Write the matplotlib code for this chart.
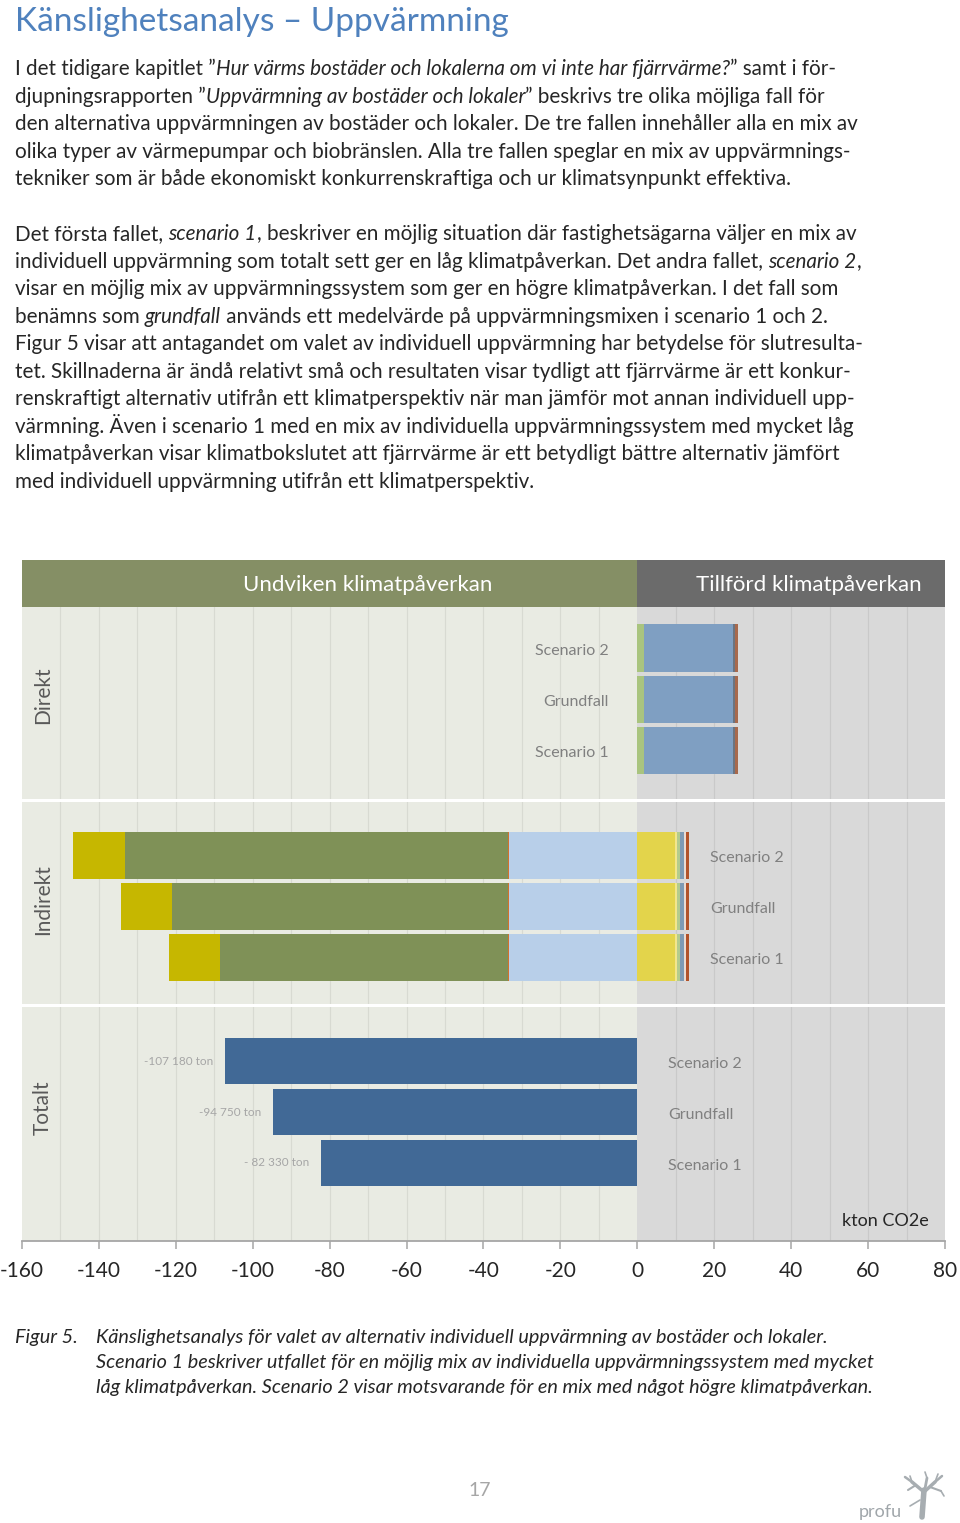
import matplotlib
matplotlib.use("Agg")
import matplotlib.pyplot as plt
import numpy as np
from matplotlib.lines import Line2D

plt.rcParams['font.family'] = ['Lato', 'DejaVu Sans']

# ---------------- data ----------------
scenarios = ['Scenario 2', 'Grundfall', 'Scenario 1']
xticks = [-160, -140, -120, -100, -80, -60, -40, -20, 0, 20, 40, 60, 80]

# Direkt (positive, stacked from 0)
dir_a = [1.7, 1.7, 1.7]
dir_b = [23.1, 23.1, 23.1]
dir_c = [0.6, 0.6, 0.6]
dir_d = [0.7, 0.7, 0.7]
dir_colors = ['#a9c47f', '#7f9fc2', '#6b7480', '#a8694c']

# Indirekt negative (stacked from 0 to the left)
ind_neg_a = [33.3, 33.3, 33.3]
ind_neg_b = [0.4, 0.4, 0.4]
ind_neg_c = [99.6, 87.2, 74.7]
ind_neg_d = [13.4, 13.3, 13.4]
ind_neg_colors = ['#b8cfe9', '#d2722e', '#7f9157', '#c6b700']

# Indirekt positive
ind_pos_a = [9.8, 9.8, 9.8]
ind_pos_b = [0.45, 0.45, 0.45]
ind_pos_c = [0.85, 0.85, 0.85]
ind_pos_d = [1.05, 1.05, 1.05]
ind_pos_e = [0.4, 0.4, 0.4]
ind_pos_f = [0.85, 0.85, 0.85]
ind_pos_colors = ['#e3d44b', '#f3e68c', '#b3cc8c', '#7e9ab4', '#eadbd2', '#b2532a']

# Totalt
totals = [-107.18, -94.75, -82.33]
total_labels = ['-107 180 ton', '-94 750 ton', '- 82 330 ton']

title = 'Känslighetsanalys – Uppvärmning'
para1 = [
    [('I det tidigare kapitlet ”', False), ('Hur värms bostäder och lokalerna om vi inte har fjärrvärme?', True), ('” samt i för-', False)],
    [('djupningsrapporten ”', False), ('Uppvärmning av bostäder och lokaler', True), ('” beskrivs tre olika möjliga fall för', False)],
    [('den alternativa uppvärmningen av bostäder och lokaler. De tre fallen innehåller alla en mix av', False)],
    [('olika typer av värmepumpar och biobränslen. Alla tre fallen speglar en mix av uppvärmnings-', False)],
    [('tekniker som är både ekonomiskt konkurrenskraftiga och ur klimatsynpunkt effektiva.', False)],
]
para2 = [
    [('Det första fallet, ', False), ('scenario 1', True), (', beskriver en möjlig situation där fastighetsägarna väljer en mix av', False)],
    [('individuell uppvärmning som totalt sett ger en låg klimatpåverkan. Det andra fallet, ', False), ('scenario 2', True), (',', False)],
    [('visar en möjlig mix av uppvärmningssystem som ger en högre klimatpåverkan. I det fall som', False)],
    [('benämns som ', False), ('grundfall', True), (' används ett medelvärde på uppvärmningsmixen i scenario 1 och 2.', False)],
    [('Figur 5 visar att antagandet om valet av individuell uppvärmning har betydelse för slutresulta-', False)],
    [('tet. Skillnaderna är ändå relativt små och resultaten visar tydligt att fjärrvärme är ett konkur-', False)],
    [('renskraftigt alternativ utifrån ett klimatperspektiv när man jämför mot annan individuell upp-', False)],
    [('värmning. Även i scenario 1 med en mix av individuella uppvärmningssystem med mycket låg', False)],
    [('klimatpåverkan visar klimatbokslutet att fjärrvärme är ett betydligt bättre alternativ jämfört', False)],
    [('med individuell uppvärmning utifrån ett klimatperspektiv.', False)],
]
caption_head = 'Figur 5.'
caption = [
    'Känslighetsanalys för valet av alternativ individuell uppvärmning av bostäder och lokaler.',
    'Scenario 1 beskriver utfallet för en möjlig mix av individuella uppvärmningssystem med mycket',
    'låg klimatpåverkan. Scenario 2 visar motsvarande för en mix med något högre klimatpåverkan.',
]

# ---------------- figure ----------------
W, H = 960, 1523
fig = plt.figure(figsize=(W / 100, H / 100), dpi=100)
fig.patch.set_facecolor('white')
renderer = fig.canvas.get_renderer()


def fx(px):
    return px / W


def fy(py):
    return 1 - py / H


def seg_width(s, size, italic):
    t = fig.text(0, 0, s + 'x', size=size, style='italic' if italic else 'normal')
    w1 = t.get_window_extent(renderer).width
    t.set_text('x')
    w2 = t.get_window_extent(renderer).width
    t.remove()
    return w1 - w2


def draw_line(x, yc, segs, size, color):
    base = yc + 0.36 * size * 100 / 72
    for s, it in segs:
        fig.text(fx(x), fy(base), s, size=size, style='italic' if it else 'normal',
                 color=color, ha='left', va='baseline')
        x += seg_width(s, size, it)


# title
tsize = 24 * 495 / seg_width(title, 24, False)
draw_line(15, 19, [(title, False)], tsize, '#4f81bd')

# body text: fit size so a reference line matches width
ref = para1[2][0][0]
bsize = 14 * 845 / seg_width(ref, 14, False)
for i, segs in enumerate(para1):
    draw_line(15, 68 + i * 27.5, segs, bsize, '#262626')
for i, segs in enumerate(para2):
    draw_line(15, 233 + i * 27.5, segs, bsize, '#262626')

# caption
csize = 13 * 775 / seg_width(caption[2], 13, True)
draw_line(15, 1336, [(caption_head, True)], csize, '#262626')
for i, line in enumerate(caption):
    draw_line(96, 1336 + i * 25, [(line, True)], csize, '#262626')

# page number & logo
fig.text(fx(480), fy(1491), '17', size=14, color='#a6a6a6', ha='center', va='center')
fig.text(fx(880), fy(1512), 'profu', size=13, color='#a0a6aa', ha='center', va='center')
tree = [((922, 1517), (924, 1490), 4), ((924, 1492), (912, 1482), 2.5), ((924, 1492), (935, 1482), 2.5),
        ((935, 1482), (942, 1476), 1.8), ((912, 1482), (905, 1477), 1.8), ((916, 1485), (908, 1490), 1.5),
        ((930, 1487), (941, 1491), 1.5), ((924, 1494), (927, 1478), 2), ((927, 1478), (925, 1472), 1.2),
        ((935, 1482), (938, 1474), 1.2), ((912, 1482), (910, 1476), 1.2), ((941, 1491), (944, 1496), 1.2),
        ((920, 1500), (910, 1506), 1.2)]
for (x0, y0), (x1, y1), lw in tree:
    fig.add_artist(Line2D([fx(x0), fx(x1)], [fy(y0), fy(y1)], color='#a7adb1', lw=lw,
                          transform=fig.transFigure, solid_capstyle='round'))

# ---------------- chart ----------------
LEFT, RIGHT = 22, 945
XMIN, XMAX = -160, 80
left_bg, right_bg = '#e9ebe3', '#d9d9d9'
bar_h = 0.92
ypos = np.arange(len(scenarios))


def panel(top, bottom, ylo, yhi):
    ax = fig.add_axes([fx(LEFT), fy(bottom), (RIGHT - LEFT) / W, (bottom - top) / H])
    ax.set_xlim(XMIN, XMAX)
    ax.set_ylim(yhi, ylo)
    ax.axvspan(XMIN, 0, color=left_bg, zorder=0, lw=0)
    ax.axvspan(0, XMAX, color=right_bg, zorder=0, lw=0)
    for v in np.arange(XMIN + 10, XMAX, 10):
        if v != 0:
            ax.axvline(v, color=(0, 0, 0, 0.07), lw=0.9, zorder=0.5)
    for s in ax.spines.values():
        s.set_visible(False)
    ax.set_yticks([])
    ax.set_xticks([])
    return ax


def stack(ax, series, colors, sign):
    acc = np.zeros(len(scenarios))
    for vals, c in zip(series, colors):
        v = np.array(vals) * sign
        ax.barh(ypos, v, left=acc, height=bar_h, color=c, lw=0, zorder=2)
        acc = acc + v


# header
axh = fig.add_axes([fx(LEFT), fy(607), (RIGHT - LEFT) / W, 47 / H])
axh.set_xlim(XMIN, XMAX)
axh.set_ylim(0, 1)
axh.axvspan(XMIN, 0, color='#858f65', lw=0)
axh.axvspan(0, XMAX, color='#6b6b6b', lw=0)
axh.text(-70, 0.47, 'Undviken klimatpåverkan', color='white', size=16, ha='center', va='center')
axh.text(44.5, 0.47, 'Tillförd klimatpåverkan', color='white', size=16, ha='center', va='center')
axh.axis('off')

# Direkt
ax1 = panel(607, 799, -0.80, 2.94)
stack(ax1, [dir_a, dir_b, dir_c, dir_d], dir_colors, 1)
for i, s in enumerate(scenarios):
    ax1.text(-7.4, i + 0.05, s, ha='right', va='center', size=11.5, color='#808080')

# Indirekt
ax2 = panel(802, 1004, -1.04, 2.92)
stack(ax2, [ind_neg_a, ind_neg_b, ind_neg_c, ind_neg_d], ind_neg_colors, -1)
stack(ax2, [ind_pos_a, ind_pos_b, ind_pos_c, ind_pos_d, ind_pos_e, ind_pos_f], ind_pos_colors, 1)
for i, s in enumerate(scenarios):
    ax2.text(19, i + 0.05, s, ha='left', va='center', size=11.5, color='#808080')

# Totalt
ax3 = panel(1007, 1241, -1.06, 3.53)
ax3.barh(ypos, totals, height=bar_h, color='#416996', lw=0, zorder=2)
for i, s in enumerate(scenarios):
    ax3.text(8, i + 0.05, s, ha='left', va='center', size=11.5, color='#808080')
for i, (v, lab) in enumerate(zip(totals, total_labels)):
    ax3.text(v - 3.0, i, lab, ha='right', va='center', size=8.5, color='#a6a6a6')
ax3.spines['bottom'].set_visible(True)
ax3.spines['bottom'].set_color('#a6a6a6')
ax3.spines['bottom'].set_linewidth(1.3)
ax3.set_xticks(xticks)
ax3.set_xticklabels([str(t) for t in xticks])
ax3.tick_params(axis='x', direction='out', length=5.5, width=1.1, color='#a6a6a6',
                labelsize=15, labelcolor='#262626', pad=9)

# panel labels
for lab, yc in [('Direkt', 695), ('Indirekt', 900), ('Totalt', 1108)]:
    fig.text(fx(43), fy(yc), lab, rotation=90, ha='center', va='center', size=15, color='#595959')

fig.text(fx(929), fy(1221), 'kton CO2e', ha='right', va='center', size=13, color='#262626')

fig.savefig('out.png', dpi=100, facecolor='white')
